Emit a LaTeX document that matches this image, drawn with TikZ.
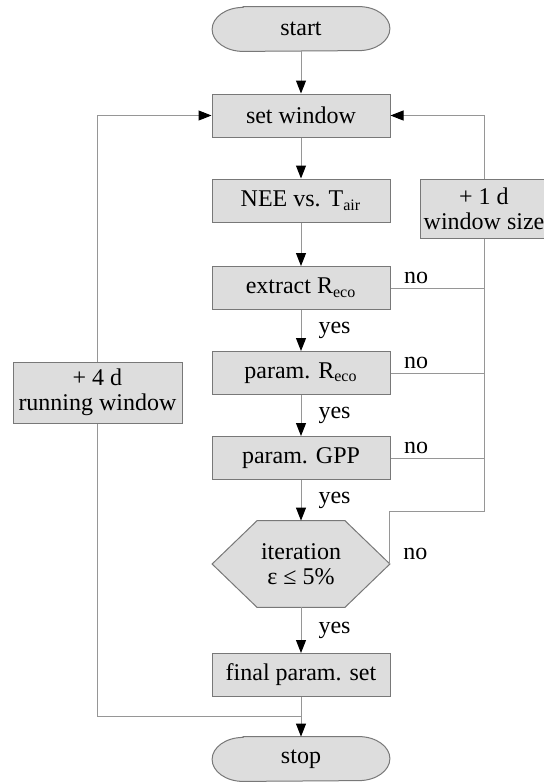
\documentclass[tikz,border=0pt]{standalone}
\usepackage{fontspec}
\setmainfont{Liberation Serif}
\usetikzlibrary{arrows.meta,calc,backgrounds}
\definecolor{boxfill}{RGB}{221,221,221}
\definecolor{boxedge}{RGB}{120,120,120}
\definecolor{connline}{RGB}{150,150,150}

\begin{document}
\begin{tikzpicture}[x=0.5pt,y=-0.5pt,font=\fontsize{12}{12.5}\selectfont,
  procbox/.style={draw=boxedge,fill=boxfill,line width=0.5pt,minimum width=89pt,minimum height=21.5pt,inner sep=0pt,align=center},
  termbox/.style={minimum width=88.5pt,minimum height=22pt,inner sep=0pt},
  shapeline/.style={draw=boxedge,fill=boxfill,line width=0.5pt},
  conn/.style={draw=connline,line width=0.5pt},
  flow/.style={conn,-{Triangle[length=6.5pt,width=5pt,color=black]}},
  yeslabel/.style={midway,right,inner sep=2pt,xshift=6.5pt},
  nolabel/.style={pos=0,anchor=south west,inner sep=2pt,xshift=4.5pt}]
  \useasboundingbox (0,0) rectangle (544,782);
  \clip (0,0) rectangle (544,782);
  % --- main column ---
  \node[termbox] (start) at (301,29) {start};
  \node[procbox] (setwin) at (301,115.5) {set window};
  \node[procbox] (nee) at (301,200.5) {NEE vs. T\textsubscript{air}};
  \node[procbox] (extract) at (301,288) {extract R\textsubscript{eco}};
  \node[procbox] (paramr) at (301,373) {param. R\textsubscript{eco}};
  \node[procbox] (gpp) at (301,458) {param. GPP};
  \node[termbox,minimum height=43pt,align=center] (iter) at (301,564) {iteration\\ε ≤ 5\%};
  \node[procbox] (final) at (301,675) {final param. set};
  \node[termbox] (stop) at (301,759) {stop};
  % --- side boxes ---
  \node[procbox,minimum width=84.5pt,minimum height=30.5pt] (run) at (97.5,392.5) {+ 4 d\\running window};
  \node[procbox,minimum width=64pt,minimum height=29.5pt] (wsize) at (484,208.5) {+ 1 d\\window size};
  % --- outlines of terminals and decision ---
  \begin{scope}[on background layer]
    \filldraw[shapeline] (iter.west) -- ([xshift=22.5pt]iter.north west) -- ([xshift=-22.5pt]iter.north east)
      -- (iter.east) -- ([xshift=-22.5pt]iter.south east) -- ([xshift=22.5pt]iter.south west) -- cycle;
    \foreach \t in {start,stop}
      \filldraw[shapeline] ([xshift=15.5pt]\t.north west) -- ([xshift=-15.5pt]\t.north east)
        arc[start angle=90,end angle=-90,x radius=15.5pt,y radius=11pt]
        -- ([xshift=15.5pt]\t.south west)
        arc[start angle=270,end angle=90,x radius=15.5pt,y radius=11pt] -- cycle;
  \end{scope}
  % --- flow arrows ---
  \draw[flow] (start) -- (setwin);
  \draw[flow] (setwin) -- (nee);
  \draw[flow] (nee) -- (extract);
  \foreach \a/\b in {extract/paramr,paramr/gpp,gpp/iter,iter/final}
    \draw[flow] (\a) -- (\b) node[yeslabel] {yes};
  \draw[flow] (final) -- (stop);
  % --- "no" branches to window size ---
  \foreach \a in {extract,paramr,gpp}
    \draw[conn] (\a.east) -- (\a.east -| wsize.south) node[nolabel] {no};
  \draw[conn] (iter.east) -- (iter.east |- 0,511) node[nolabel] {no} -| (wsize.south);
  \draw[flow] (wsize.north) |- (setwin.east);
  % --- running window loop ---
  \coordinate (jstop) at ($(final.south)!0.5!(stop.north)$);
  \draw[conn] (jstop) -| (run.south);
  \draw[flow] (run.north) |- (setwin.west);
\end{tikzpicture}
\end{document}
